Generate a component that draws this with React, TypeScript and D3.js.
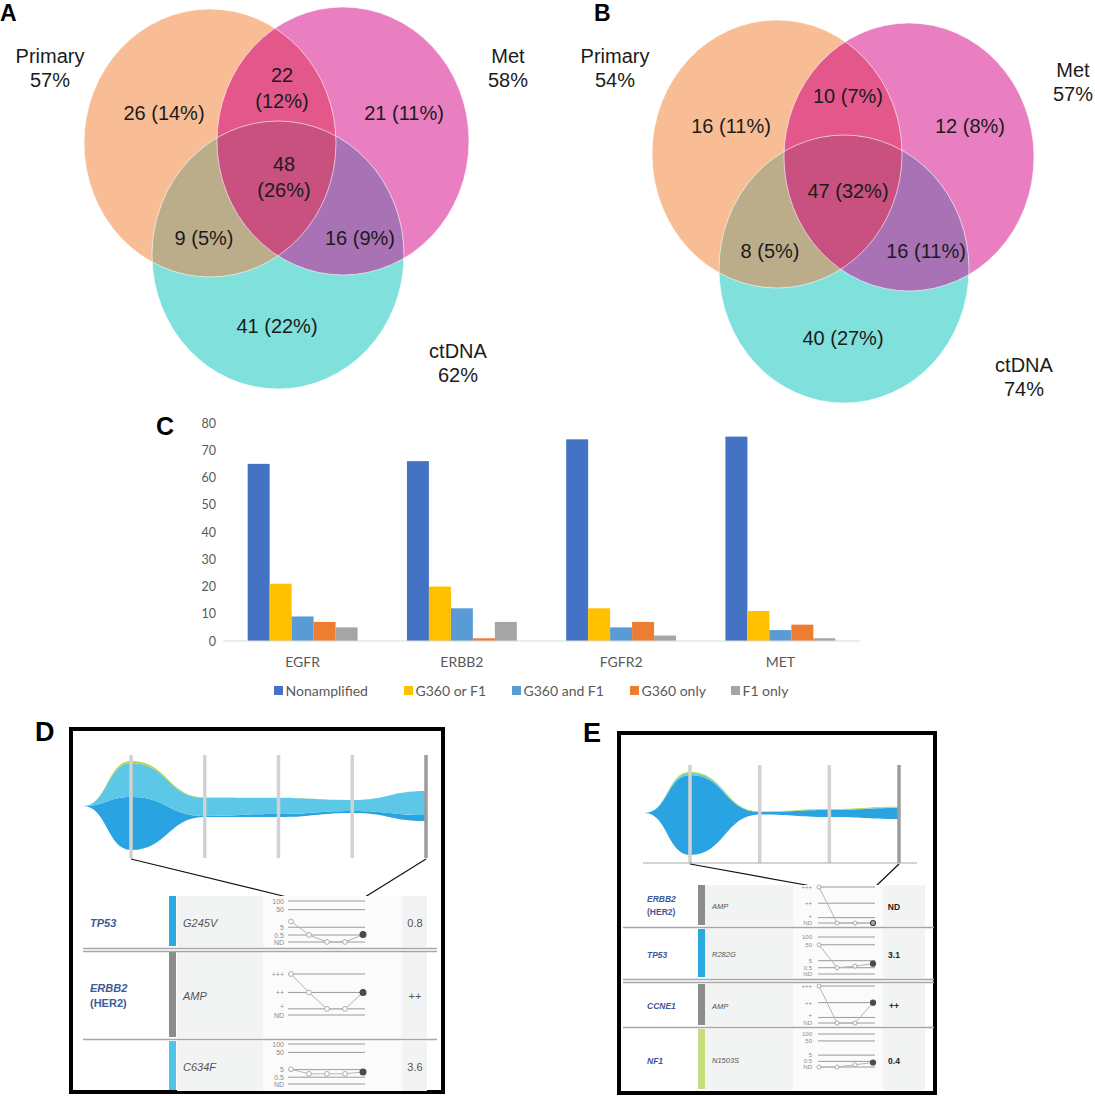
import * as d3 from 'd3'

const W = 1095
const H = 1096

// ---------- A / B: Venn counts ----------
const VENN_SETS = ['Primary', 'Met', 'ctDNA']
// region membership: Primary only, Primary+Met, Met only, all three, Primary+ctDNA, Met+ctDNA, ctDNA only
const VENN_REGIONS = [[0], [0, 1], [1], [0, 1, 2], [0, 2], [1, 2], [2]]
const VENN_A_COUNTS = [26, 22, 21, 48, 9, 16, 41]
const VENN_B_COUNTS = [16, 10, 12, 47, 8, 16, 40]

// ---------- C: amplification calls ----------
const GENES = ['EGFR', 'ERBB2', 'FGFR2', 'MET']
const AMP_SERIES = ['Nonamplified', 'G360 or F1', 'G360 and F1', 'G360 only', 'F1 only']
const NONAMPLIFIED = [65, 66, 74, 75]
const G360_OR_F1 = [21, 20, 12, 11]
const G360_AND_F1 = [9, 12, 5, 4]
const G360_ONLY = [7, 1, 7, 6]
const F1_ONLY = [5, 7, 2, 1]
const BAR_TICKS = [0, 10, 20, 30, 40, 50, 60, 70, 80]

// ---------- D / E: fish plots, [low, high] per timepoint ----------
const FISH_D_TIMES = [0.35, 1, 2, 3, 4, 5]
const FISH_D_CLONE1 = [[0, 0], [-44, 9], [-11, -10], [-11, -8], [-7, -5], [-15, -9]]
const FISH_D_CLONE2 = [[0, 0], [9, 43], [-10, 8], [-8, 8], [-5, 6], [-9, 15]]
const FISH_D_CLONE3 = [[0, 0], [43, 45], [8, 8.6], [8, 8.2], [6, 6], [15, 15]]

const FISH_E_TIMES = [0.35, 1, 2, 3, 4]
const FISH_E_CLONE1 = [[0, 0], [-42, 38], [-1.5, 1], [-4, 3], [-6, 5]]
const FISH_E_CLONE2 = [[0, 0], [38, 40], [1, 1], [3, 3.3], [5, 5.5]]
const FISH_E_CLONE3 = [[0, 0], [40, 41.2], [1, 1.5], [3.3, 4], [5.5, 6.3]]

// ---------- D / E: variant tracks ----------
const D_GENES = ['TP53', 'ERBB2', '']
const D_GENE_NOTES = ['', '(HER2)', '']
const D_VARIANTS = ['G245V', 'AMP', 'C634F']
const D_KINDS = ['vaf', 'amp', 'vaf']
const D_SERIES = [[20, 0.5, 0, 0, 0.8], [3, 2, 1, 1, 2], [6, 2.5, 2.5, 2.5, 3.6]]
const D_READINGS = ['0.8', '++', '3.6']

const E_GENES = ['ERBB2', 'TP53', 'CCNE1', 'NF1']
const E_GENE_NOTES = ['(HER2)', '', '', '']
const E_VARIANTS = ['AMP', 'R282G', 'AMP', 'N1503S']
const E_KINDS = ['amp', 'vaf', 'amp', 'vaf']
const E_SERIES = [[3, 0, 0, 0], [50, 0.5, 1.5, 3.1], [3, 0, 0, 2], [0, 0, 0.2, 0.4]]
const E_READINGS = ['ND', '3.1', '++', '0.4']

const VAF_LEVELS = [0, 0.5, 5, 50, 100]
const VAF_LABELS = ['ND', '0.5', '5', '50', '100']
const AMP_LEVELS = [0, 1, 2, 3]
const AMP_LABELS = ['ND', '+', '++', '+++']

// ---------- styles ----------
const SANS = "'Liberation Sans', Arial, Helvetica, sans-serif"
const CAL = "Lato, 'Open Sans', sans-serif"
const VENN_COLORS = ['#F8BD95', '#E97FC0', '#80E0DB']
const PM = '#E4578A'
const PC = '#BCAD8A'
const MC = '#A872B5'
const PMC = '#C8517F'
const BAR_COLORS = ['#4472C4', '#FFC000', '#5B9BD5', '#ED7D31', '#A5A5A5']
const FISH_COLORS = ['#29A3E1', '#5CC7E7', '#B6D43F']
const GENE_COLOR = '#3D5A98'
// fractions from top of the sparkline box, for levels listed low→high
const VAF_FRACS = [1, 0.83, 0.64, 0.21, 0]
const AMP_FRACS = [1, 0.85, 0.45, 0]

const VENN_A_LAYOUT = {
  letter: { t: 'A', x: 0, y: 21 },
  ellipses: [{ cx: 210, cy: 143 }, { cx: 343, cy: 141 }, { cx: 278, cy: 255 }],
  rx: 126,
  ry: 134,
  setLabels: [{ x: 50, y: 63 }, { x: 508, y: 63 }, { x: 458, y: 358 }],
  regionLabels: [
    { x: 164, y: 120 },
    { x: 282, y: 82, stack: true },
    { x: 404, y: 120 },
    { x: 284, y: 171, stack: true },
    { x: 204, y: 245 },
    { x: 360, y: 245 },
    { x: 277, y: 333 },
  ],
}

const VENN_B_LAYOUT = {
  letter: { t: 'B', x: 594, y: 21 },
  ellipses: [{ cx: 777, cy: 154 }, { cx: 909, cy: 157 }, { cx: 844, cy: 269 }],
  rx: 125,
  ry: 134,
  setLabels: [{ x: 615, y: 63 }, { x: 1073, y: 77 }, { x: 1024, y: 372 }],
  regionLabels: [
    { x: 731, y: 133 },
    { x: 848, y: 103 },
    { x: 970, y: 133 },
    { x: 848, y: 198 },
    { x: 770, y: 258 },
    { x: 926, y: 258 },
    { x: 843, y: 345 },
  ],
}

function Venn({ id, counts, layout }: any) {
  const total = d3.sum(counts as number[])
  const pct = (v: number) => `${Math.round((v / total) * 100)}%`
  const setTotals = VENN_SETS.map((_, s) =>
    d3.sum(VENN_REGIONS.map((r, i) => (r.includes(s) ? counts[i] : 0)))
  )
  const E = layout.ellipses
  const ell = (i: number, props: any) => (
    <ellipse cx={E[i].cx} cy={E[i].cy} rx={layout.rx} ry={layout.ry} {...props} />
  )
  return (
    <g fontFamily={SANS} fill="#1b1b1b">
      <defs>
        {E.map((_: any, i: number) => (
          <clipPath id={`${id}-c${i}`} key={i}>
            {ell(i, {})}
          </clipPath>
        ))}
      </defs>
      {E.map((_: any, i: number) => (
        <g key={i}>{ell(i, { fill: VENN_COLORS[i] })}</g>
      ))}
      <g clipPath={`url(#${id}-c0)`}>{ell(1, { fill: PM })}</g>
      <g clipPath={`url(#${id}-c0)`}>{ell(2, { fill: PC })}</g>
      <g clipPath={`url(#${id}-c1)`}>{ell(2, { fill: MC })}</g>
      <g clipPath={`url(#${id}-c0)`}>
        <g clipPath={`url(#${id}-c1)`}>{ell(2, { fill: PMC })}</g>
      </g>
      {E.map((_: any, i: number) => (
        <g key={i}>{ell(i, { fill: 'none', stroke: '#fff', strokeOpacity: 0.6, strokeWidth: 1 })}</g>
      ))}

      <text x={layout.letter.x} y={layout.letter.y} fontSize={23} fontWeight="bold" fill="#000">
        {layout.letter.t}
      </text>

      {VENN_SETS.map((name, i) => (
        <g key={name} textAnchor="middle" fontSize={20}>
          <text x={layout.setLabels[i].x} y={layout.setLabels[i].y}>{name}</text>
          <text x={layout.setLabels[i].x} y={layout.setLabels[i].y + 24}>{pct(setTotals[i])}</text>
        </g>
      ))}

      {counts.map((c: number, i: number) => {
        const p = layout.regionLabels[i]
        return p.stack ? (
          <g key={i} textAnchor="middle" fontSize={20}>
            <text x={p.x} y={p.y}>{c}</text>
            <text x={p.x} y={p.y + 26}>({pct(c)})</text>
          </g>
        ) : (
          <text key={i} x={p.x} y={p.y} textAnchor="middle" fontSize={20}>
            {c} ({pct(c)})
          </text>
        )
      })}
    </g>
  )
}

const LEGEND_X = [274, 404, 512, 630, 731]

function BarPanel() {
  const x0 = d3.scaleBand<string>().domain(GENES).range([223, 860]).paddingInner(0.31).paddingOuter(0.155)
  const x1 = d3.scaleBand<string>().domain(AMP_SERIES).range([0, x0.bandwidth()])
  const y = d3.scaleLinear().domain([0, 80]).range([641, 423])
  const series = [NONAMPLIFIED, G360_OR_F1, G360_AND_F1, G360_ONLY, F1_ONLY]
  return (
    <g fontFamily={CAL}>
      <text x={156} y={435} fontSize={25} fontWeight="bold" fontFamily={SANS}>C</text>
      {BAR_TICKS.map((t) => (
        <text key={t} x={216} y={y(t)} textAnchor="end" dominantBaseline="central" fontSize={12.5} fill="#595959">
          {t}
        </text>
      ))}
      {GENES.map((g, gi) => (
        <g key={g} transform={`translate(${x0(g)},0)`}>
          {AMP_SERIES.map((s, si) => (
            <rect
              key={s}
              x={x1(s)}
              y={y(series[si][gi])}
              width={x1.bandwidth()}
              height={y(0) - y(series[si][gi])}
              fill={BAR_COLORS[si]}
            />
          ))}
          <text x={x0.bandwidth() / 2} y={667} textAnchor="middle" fontSize={14} fill="#595959">
            {g}
          </text>
        </g>
      ))}
      <line x1={x0.range()[0]} x2={x0.range()[1]} y1={y(0)} y2={y(0)} stroke="#D9D9D9" strokeWidth={1} />
      {AMP_SERIES.map((s, si) => (
        <g key={s} transform={`translate(${LEGEND_X[si]},686)`}>
          <rect width={9} height={9} fill={BAR_COLORS[si]} />
          <text x={11.5} y={10} fontSize={14} fill="#595959">{s}</text>
        </g>
      ))}
    </g>
  )
}

const PANEL_D = {
  letter: { t: 'D', x: 35, y: 741 },
  box: { x: 71, y: 729, w: 372, h: 363 },
  fish: {
    times: FISH_D_TIMES,
    clones: [FISH_D_CLONE1, FISH_D_CLONE2, FISH_D_CLONE3],
    xFirst: 131,
    xLast: 426,
    yMid: 806,
    barTop: 755,
    barBottom: 858,
    baseline: null as null | { x0: number; x1: number },
    connectDy: -4,
  },
  table: {
    genes: D_GENES,
    notes: D_GENE_NOTES,
    variants: D_VARIANTS,
    kinds: D_KINDS,
    series: D_SERIES,
    readings: D_READINGS,
    bars: ['#2AA8E0', '#8C8C8C', '#4FC4E8'],
  },
  rows: [
    { top: 896, bottom: 947, sparkTop: 901, sparkBottom: 942 },
    { top: 952, bottom: 1038, sparkTop: 974, sparkBottom: 1015 },
    { top: 1041, bottom: 1091, sparkTop: 1044, sparkBottom: 1084 },
  ],
  seps: [{ y: 948.5, double: true }, { y: 1039.5, double: false }],
  cols: {
    geneX: 90, barX: 169, barW: 7, cell0: 177, spark0: 263, val0: 402, val1: 427,
    tickX: 284, line0: 288, line1: 365, pt0: 291, pt1: 363, valX: 415, sep0: 83, sep1: 437,
  },
  font: { gene: 11, noteGap: 7.5, variant: 11, tick: 7, val: 11, valWeight: 'normal', valColor: '#555', r: 2.4 },
}

const PANEL_E = {
  letter: { t: 'E', x: 583, y: 742 },
  box: { x: 619, y: 733, w: 316, h: 360 },
  fish: {
    times: FISH_E_TIMES,
    clones: [FISH_E_CLONE1, FISH_E_CLONE2, FISH_E_CLONE3],
    xFirst: 690,
    xLast: 899,
    yMid: 813,
    barTop: 765,
    barBottom: 863,
    baseline: { x0: 643, x1: 917 },
    connectDy: 0,
  },
  table: {
    genes: E_GENES,
    notes: E_GENE_NOTES,
    variants: E_VARIANTS,
    kinds: E_KINDS,
    series: E_SERIES,
    readings: E_READINGS,
    bars: ['#8C8C8C', '#2AA8E0', '#8C8C8C', '#C8DE7E'],
  },
  rows: [
    { top: 885, bottom: 926, sparkTop: 887, sparkBottom: 923 },
    { top: 929, bottom: 978, sparkTop: 937, sparkBottom: 974 },
    { top: 984, bottom: 1026, sparkTop: 986, sparkBottom: 1023 },
    { top: 1029, bottom: 1090, sparkTop: 1034, sparkBottom: 1067 },
  ],
  seps: [{ y: 927.5, double: false }, { y: 979.5, double: true }, { y: 1027.5, double: false }],
  cols: {
    geneX: 647, barX: 698, barW: 7, cell0: 705, spark0: 793, val0: 883, val1: 925,
    tickX: 812, line0: 818, line1: 875, pt0: 819, pt1: 873, valX: 894, sep0: 623, sep1: 934,
  },
  font: { gene: 8.5, noteGap: 6.5, variant: 7.5, tick: 6, val: 8.5, valWeight: 'bold', valColor: '#222', r: 2 },
}

function FishPanel({ cfg }: any) {
  const { fish, table, rows, cols, font } = cfg
  const nSamples = table.series[0].length
  const fx = d3.scaleLinear().domain([1, nSamples]).range([fish.xFirst, fish.xLast])
  const fy = d3.scaleLinear().domain([-50, 50]).range([fish.yMid + 50, fish.yMid - 50])
  const area = d3
    .area<number[]>()
    .x((d, i) => fx(fish.times[i]))
    .y0((d) => fy(d[0]))
    .y1((d) => fy(d[1]))
    .curve(d3.curveBumpX)
  const sx = d3.scalePoint<number>().domain(d3.range(nSamples)).range([cols.pt0, cols.pt1])
  const line = d3.line<number[]>()

  const levelScale = (kind: string, row: any) => {
    const levels = kind === 'vaf' ? VAF_LEVELS : AMP_LEVELS
    const fracs = kind === 'vaf' ? VAF_FRACS : AMP_FRACS
    return d3
      .scaleLinear()
      .domain(levels)
      .range(fracs.map((f) => row.sparkTop + f * (row.sparkBottom - row.sparkTop)))
  }
  const firstY = levelScale(table.kinds[0], rows[0])
  const topLevel = table.kinds[0] === 'vaf' ? 100 : 3
  const connectY = firstY(topLevel) + fish.connectDy

  return (
    <g fontFamily={SANS}>
      <text x={cfg.letter.x} y={cfg.letter.y} fontSize={27} fontWeight="bold">
        {cfg.letter.t}
      </text>
      <rect x={cfg.box.x} y={cfg.box.y} width={cfg.box.w} height={cfg.box.h} fill="#fff" stroke="#000" strokeWidth={4} />

      {/* fish plot */}
      {fish.clones.map((c: number[][], i: number) => (
        <path key={i} d={area(c) ?? undefined} fill={FISH_COLORS[i]} />
      ))}
      {d3.range(1, nSamples + 1).map((t) => (
        <line
          key={t}
          x1={fx(t)}
          x2={fx(t)}
          y1={fish.barTop}
          y2={fish.barBottom}
          stroke={t === nSamples ? '#9C9C9C' : '#D2D2D2'}
          strokeWidth={3.5}
        />
      ))}
      {fish.baseline && (
        <line x1={fish.baseline.x0} x2={fish.baseline.x1} y1={fish.barBottom} y2={fish.barBottom} stroke="#A8A8A8" strokeWidth={1} />
      )}
      <line x1={fx(1)} y1={fish.barBottom + 1} x2={cols.line0 - 1} y2={connectY} stroke="#111" strokeWidth={1.2} />
      <line x1={fx(nSamples)} y1={fish.barBottom + 1} x2={cols.line1} y2={connectY} stroke="#111" strokeWidth={1.2} />

      {/* tracks */}
      {rows.map((row: any, ri: number) => {
        const kind = table.kinds[ri]
        const ys = levelScale(kind, row)
        const levels = kind === 'vaf' ? VAF_LEVELS : AMP_LEVELS
        const labels = kind === 'vaf' ? VAF_LABELS : AMP_LABELS
        const vals: number[] = table.series[ri]
        const mid = (row.top + row.bottom) / 2
        const pts = vals.map((v, i) => [sx(i) as number, ys(v)])
        const last = vals.length - 1
        return (
          <g key={ri}>
            <rect x={cols.cell0} y={row.top} width={cols.spark0 - cols.cell0} height={row.bottom - row.top} fill="#F2F3F3" />
            <rect x={cols.spark0} y={row.top} width={cols.val0 - cols.spark0} height={row.bottom - row.top} fill="#FBFBFB" />
            <rect x={cols.val0} y={row.top} width={cols.val1 - cols.val0} height={row.bottom - row.top} fill="#F2F3F3" />
            <rect x={cols.barX} y={row.top} width={cols.barW} height={row.bottom - row.top - 1} fill={table.bars[ri]} />

            {table.notes[ri] ? (
              <g fill={GENE_COLOR} fontSize={font.gene}>
                <text x={cols.geneX} y={mid - font.noteGap} dominantBaseline="central" fontStyle="italic" fontWeight="bold">
                  {table.genes[ri]}
                </text>
                <text x={cols.geneX} y={mid + font.noteGap} dominantBaseline="central" fontWeight="bold">
                  {table.notes[ri]}
                </text>
              </g>
            ) : (
              <text x={cols.geneX} y={mid + 1} dominantBaseline="central" fontStyle="italic" fontWeight="bold" fill={GENE_COLOR} fontSize={font.gene}>
                {table.genes[ri]}
              </text>
            )}
            <text x={cols.barX + cols.barW + 7} y={mid + 1} dominantBaseline="central" fontStyle="italic" fill="#555" fontSize={font.variant}>
              {table.variants[ri]}
            </text>

            {levels.map((lv, li) => (
              <g key={lv}>
                <line x1={cols.line0} x2={cols.line1} y1={ys(lv)} y2={ys(lv)} stroke="#8E8E8E" strokeWidth={0.9} />
                <text
                  x={cols.tickX}
                  y={ys(lv) - (labels[li] === '+' ? 2 : 0)}
                  textAnchor="end"
                  dominantBaseline="central"
                  fontSize={font.tick}
                  fill="#8A8A8A"
                >
                  {labels[li]}
                </text>
              </g>
            ))}
            <path d={line(pts as any) ?? undefined} fill="none" stroke="#B4B4B4" strokeWidth={1} />
            {pts.map(([px, py], i) => (
              <circle
                key={i}
                cx={px}
                cy={py}
                r={i === last ? font.r + 0.5 : font.r}
                fill={i === last ? (table.readings[ri] === 'ND' ? '#A8A8A8' : '#4A4A4A') : '#fff'}
                stroke={i === last ? '#4A4A4A' : '#9A9A9A'}
                strokeWidth={i === last ? 1.2 : 0.8}
              />
            ))}
            <text
              x={cols.valX}
              y={mid + 1}
              textAnchor="middle"
              dominantBaseline="central"
              fontSize={font.val}
              fontWeight={font.valWeight}
              fill={font.valColor}
            >
              {table.readings[ri]}
            </text>
          </g>
        )
      })}

      {cfg.seps.map((s: any, i: number) => (
        <g key={i} stroke="#A6A6A6" strokeWidth={1.4}>
          <line x1={cols.sep0} x2={cols.sep1} y1={s.y} y2={s.y} />
          {s.double && <line x1={cols.sep0} x2={cols.sep1} y1={s.y + 3} y2={s.y + 3} />}
        </g>
      ))}
    </g>
  )
}

export default function App() {
  return (
    <svg
      width={W}
      height={H}
      viewBox={`0 0 ${W} ${H}`}
      style={{ position: 'absolute', left: 0, top: 0, display: 'block' }}
    >
      <rect width={W} height={H} fill="#fff" />
      <Venn id="vennA" counts={VENN_A_COUNTS} layout={VENN_A_LAYOUT} />
      <Venn id="vennB" counts={VENN_B_COUNTS} layout={VENN_B_LAYOUT} />
      <BarPanel />
      <FishPanel cfg={PANEL_D} />
      <FishPanel cfg={PANEL_E} />
    </svg>
  )
}
